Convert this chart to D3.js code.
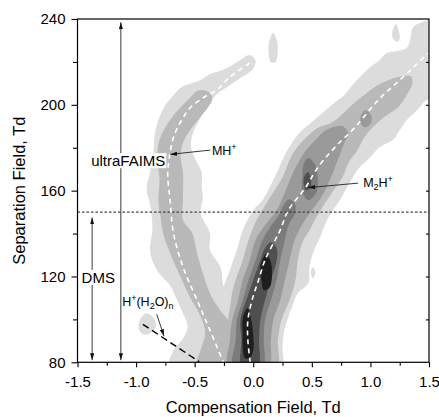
<!DOCTYPE html>
<html><head><meta charset="utf-8">
<script src="https://cdn.jsdelivr.net/npm/d3@7"></script>
<style>body{margin:0;background:#fff} svg{display:block} text{font-family:"Liberation Sans",Arial,sans-serif;fill:#000}</style>
</head><body><svg id="c" width="439" height="417"></svg>
<script>
// ---- axes ----
const xTicks = [-1.5,-1.0,-0.5,0.0,0.5,1.0,1.5];
const xTickLabels = ["-1.5","-1.0","-0.5","0.0","0.5","1.0","1.5"];
const xMinor = [-1.25,-0.75,-0.25,0.25,0.75,1.25];
const yTicks = [80,120,160,200,240];
const yTickLabels = ["80","120","160","200","240"];
const yMinor = [100,140,180,220];
const yRightTicks = [100,120,140,160,180,200,220];
const levelColors = ["#dcdcdc","#b9b9b9","#9a9a9a","#7b7b7b","#4f4f4f","#1e1e1e"];

// ---- contour regions, [CV (Td), SV (Td)] ----
const mhLevel1 = [[-0.03,223.2],[0.02,220.4],[-0.01,216.2],[-0.11,212.5],[-0.21,208.8],[-0.31,205.0],[-0.39,199.4],[-0.46,192.9],[-0.52,185.9],[-0.53,179.8],[-0.49,174.2],[-0.44,168.6],[-0.44,162.1],[-0.43,156.5],[-0.45,149.5],[-0.37,140.2],[-0.37,132.3],[-0.28,124.3],[-0.25,115.0],[-0.18,108.9],[-0.06,104.3],[-0.04,78],[-0.71,78],[-0.68,85.6],[-0.61,90.3],[-0.56,96.3],[-0.60,102.9],[-0.65,108.9],[-0.71,115.9],[-0.81,122.0],[-0.88,131.3],[-0.86,142.5],[-0.88,153.2],[-0.91,161.2],[-0.88,168.6],[-0.85,178.9],[-0.84,186.8],[-0.81,192.9],[-0.76,199.0],[-0.68,204.6],[-0.61,208.3],[-0.47,211.1],[-0.37,214.3],[-0.24,216.7],[-0.11,220.9]];
const waterBlob1 = [[-0.96,100.5],[-0.91,102.9],[-0.85,100.5],[-0.83,96.8],[-0.88,93.5],[-0.94,93.1],[-0.98,95.9]];
const topBlob1 = [[0.17,233.5],[0.20,230.2],[0.21,225.5],[0.19,219.9],[0.15,219.9],[0.13,225.5],[0.14,230.2]];
const cornerBlob1 = [[1.22,237.7],[1.24,234.9],[1.25,231.1],[1.23,229.3],[1.19,231.1],[1.19,234.9]];
const spotBlob1 = [[0.51,124.3],[0.53,122.0],[0.51,119.2],[0.49,122.0]];
const m2hLevel1 = [[-0.18,78],[-0.21,99.6],[-0.26,112.7],[-0.20,122.9],[-0.14,132.3],[-0.09,141.6],[0.00,150.9],[0.08,155.6],[0.14,161.6],[0.20,168.2],[0.26,175.6],[0.33,182.2],[0.40,187.3],[0.50,192.0],[0.59,196.2],[0.68,200.4],[0.77,204.1],[0.84,208.8],[0.91,212.9],[1.00,217.6],[1.08,220.9],[1.14,224.1],[1.23,225.1],[1.31,226.5],[1.34,230.7],[1.36,235.8],[1.42,238.1],[1.53,239.1],[1.53,202.2],[1.48,202.2],[1.40,197.6],[1.31,192.9],[1.25,188.2],[1.19,183.6],[1.08,180.3],[1.00,175.6],[0.91,171.0],[0.85,166.3],[0.80,161.6],[0.74,155.6],[0.68,150.9],[0.63,146.3],[0.57,138.3],[0.51,130.9],[0.48,124.3],[0.47,116.9],[0.38,112.2],[0.33,105.7],[0.29,99.6],[0.26,93.5],[0.25,87.0],[0.24,78]];
const mhLevel2 = [[-0.43,206.9],[-0.37,205.5],[-0.35,202.7],[-0.39,198.5],[-0.46,193.8],[-0.54,188.2],[-0.60,182.2],[-0.62,175.6],[-0.60,168.2],[-0.60,155.6],[-0.60,146.3],[-0.52,140.2],[-0.48,130.9],[-0.43,121.5],[-0.37,112.2],[-0.30,105.7],[-0.21,99.6],[-0.11,95.0],[-0.03,78],[-0.48,78],[-0.45,85.6],[-0.41,93.5],[-0.45,101.5],[-0.54,110.3],[-0.62,119.7],[-0.71,130.9],[-0.77,140.2],[-0.79,147.2],[-0.81,155.6],[-0.80,164.9],[-0.82,175.6],[-0.80,183.6],[-0.75,189.6],[-0.65,197.1],[-0.55,202.7],[-0.48,206.4]];
const m2hLevel2 = [[-0.20,78],[-0.19,108.9],[-0.15,118.3],[-0.09,127.6],[-0.04,137.0],[0.02,145.3],[0.13,155.6],[0.25,166.3],[0.33,176.6],[0.43,183.6],[0.55,189.2],[0.68,192.0],[0.78,196.6],[0.87,201.3],[0.98,206.0],[1.08,209.7],[1.23,212.9],[1.34,213.4],[1.36,210.6],[1.30,203.6],[1.23,198.5],[1.13,194.8],[1.04,190.6],[0.95,185.0],[0.89,178.9],[0.81,172.8],[0.77,167.2],[0.70,161.2],[0.63,155.6],[0.55,148.6],[0.48,141.6],[0.42,136.0],[0.38,127.6],[0.36,118.3],[0.31,108.9],[0.24,99.6],[0.21,90.3],[0.20,78]];
const m2hLevel3 = [[-0.21,78],[-0.20,90.3],[-0.18,99.6],[-0.13,108.9],[-0.09,118.3],[-0.03,127.6],[0.02,137.0],[0.10,143.9],[0.20,150.9],[0.26,157.9],[0.35,169.6],[0.44,178.0],[0.53,183.6],[0.61,187.8],[0.68,189.6],[0.76,190.1],[0.81,186.8],[0.77,181.2],[0.72,174.2],[0.66,165.8],[0.59,157.9],[0.50,150.9],[0.43,145.3],[0.36,137.9],[0.31,127.6],[0.27,118.3],[0.23,108.9],[0.17,99.6],[0.15,90.3],[0.13,78]];
const upperBlob3 = [[0.96,197.6],[1.01,194.8],[1.00,191.0],[0.95,189.6],[0.91,192.4],[0.93,196.2]];
const m2hLevel4 = [[-0.17,78],[-0.15,90.3],[-0.14,99.6],[-0.09,108.9],[-0.04,118.3],[0.02,127.6],[0.08,137.0],[0.15,143.5],[0.22,148.6],[0.27,154.2],[0.31,156.0],[0.36,153.2],[0.35,148.6],[0.30,143.9],[0.27,137.0],[0.23,127.6],[0.20,118.3],[0.15,108.9],[0.10,99.6],[0.09,90.3],[0.08,78]];
const dimerBlob4 = [[0.47,175.2],[0.53,171.9],[0.55,165.8],[0.54,159.3],[0.47,155.6],[0.42,159.3],[0.42,167.2],[0.43,172.4]];
const m2hLevel5 = [[-0.10,78],[-0.10,90.3],[-0.11,99.6],[-0.06,108.9],[0.00,118.3],[0.06,127.6],[0.10,133.2],[0.15,136.0],[0.20,133.2],[0.20,127.6],[0.15,118.3],[0.10,108.9],[0.06,99.6],[0.05,90.3],[0.04,78]];
const dimerBlob5 = [[0.47,168.6],[0.49,165.8],[0.49,161.6],[0.45,160.2],[0.43,163.5],[0.44,167.2]];
const coreUpper6 = [[0.11,130.4],[0.15,126.7],[0.16,120.6],[0.14,115.0],[0.09,113.6],[0.07,118.3],[0.06,124.8]];
const coreLower6 = [[-0.05,105.2],[-0.02,100.5],[0.00,92.6],[0.00,85.6],[-0.03,81.9],[-0.07,81.9],[-0.09,86.6],[-0.09,93.5],[-0.09,100.5]];

// ---- ridge (dispersion) curves ----
const mhRidge = [[-0.03,219.5],[-0.20,212.9],[-0.31,207],[-0.43,203.2],[-0.54,198.5],[-0.62,192],[-0.68,185],[-0.71,177.5],[-0.73,168],[-0.71,155.6],[-0.68,140],[-0.60,124.5],[-0.48,109],[-0.37,95],[-0.25,79.4]];
const m2hRidge = [[-0.026,80],[-0.046,90.3],[-0.046,99.6],[-0.01,109],[0.045,118.3],[0.10,127.6],[0.187,137],[0.23,141.6],[0.30,150.9],[0.443,161.2],[0.554,171],[0.699,180.3],[0.870,189.6],[1.066,202.2],[1.29,213.5],[1.49,224]];
const waterLine = [[-0.942,97.7],[-0.462,80.3]];

const regions = [
  [mhLevel1,0],[m2hLevel1,0],[waterBlob1,0],[topBlob1,0],[cornerBlob1,0],[spotBlob1,0],
  [mhLevel2,1],[m2hLevel2,1],
  [m2hLevel3,2],[upperBlob3,2],
  [m2hLevel4,3],[dimerBlob4,3],
  [m2hLevel5,4],[dimerBlob5,4],
  [coreUpper6,5],[coreLower6,5]
];

const svg = d3.select("#c");
const x = d3.scaleLinear().domain([-1.5,1.5]).range([77.5,429]);
const y = d3.scaleLinear().domain([80,240]).range([362.3,19]);
const defs = svg.append("defs");
defs.append("clipPath").attr("id","clip").append("rect")
  .attr("x",x(-1.5)).attr("y",y(240)).attr("width",x(1.5)-x(-1.5)).attr("height",y(80)-y(240));
defs.append("marker").attr("id","ah").attr("viewBox","0 0 10 6").attr("refX",10).attr("refY",3)
  .attr("markerWidth",7).attr("markerHeight",4.2).attr("markerUnits","userSpaceOnUse")
  .attr("orient","auto-start-reverse").attr("preserveAspectRatio","none")
  .append("path").attr("d","M0,0L10,3L0,6Z").attr("fill","#111");

const plot = svg.append("g").attr("clip-path","url(#clip)");
const area = d3.line().x(d=>x(d[0])).y(d=>y(d[1])).curve(d3.curveCatmullRomClosed.alpha(0.5));
regions.forEach(([pts,lev])=>{
  plot.append("path").attr("d",area(pts)).attr("fill",levelColors[lev]);
});
const open = d3.line().x(d=>x(d[0])).y(d=>y(d[1])).curve(d3.curveCatmullRom.alpha(0.5));
[mhRidge,m2hRidge].forEach(r=>{
  plot.append("path").attr("d",open(r)).attr("fill","none").attr("stroke","#fff")
    .attr("stroke-width",1.6).attr("stroke-dasharray","5,4");
});
plot.append("path").attr("d",d3.line().x(d=>x(d[0])).y(d=>y(d[1]))(waterLine))
  .attr("fill","none").attr("stroke","#000").attr("stroke-width",1.4).attr("stroke-dasharray","7,4");

// dotted boundary
plot.append("line").attr("x1",x(-1.5)).attr("x2",x(1.5)).attr("y1",y(150)).attr("y2",y(150))
  .attr("stroke","#444").attr("stroke-width",1.2).attr("stroke-dasharray","2.5,2");

// axes
function styleAxis(g){ g.select(".domain").remove(); g.selectAll("line").attr("stroke","#000").attr("stroke-width",1.1);
  g.selectAll("text").attr("font-size",15).attr("font-family","Liberation Sans, Arial, sans-serif").attr("fill","#000"); g.attr("font-size",null).attr("font-family",null);}
svg.append("g").attr("transform",`translate(${x(-1.5)},0)`)
  .call(d3.axisLeft(y).tickValues(yTicks).tickSize(6).tickPadding(6).tickFormat((d,i)=>yTickLabels[i])).call(styleAxis);
svg.append("g").attr("transform",`translate(${x(-1.5)},0)`)
  .call(d3.axisLeft(y).tickValues(yMinor).tickSize(4.5).tickFormat("")).call(styleAxis);
svg.append("g").attr("transform",`translate(0,${y(80)})`)
  .call(d3.axisBottom(x).tickValues(xTicks).tickSize(5).tickPadding(9).tickFormat((d,i)=>xTickLabels[i])).call(styleAxis);
svg.append("g").attr("transform",`translate(0,${y(80)})`)
  .call(d3.axisBottom(x).tickValues(xMinor).tickSize(3.5).tickFormat("")).call(styleAxis);
svg.append("g").attr("transform",`translate(${x(1.5)},0)`)
  .call(d3.axisLeft(y).tickValues(yRightTicks).tickSize(3).tickFormat("")).call(styleAxis);
svg.append("rect").attr("x",x(-1.5)).attr("y",y(240)).attr("width",x(1.5)-x(-1.5)).attr("height",y(80)-y(240))
  .attr("fill","none").attr("stroke","#000").attr("stroke-width",1.2);

// titles
svg.append("text").attr("x",(x(-1.5)+x(1.5))/2).attr("y",413).attr("text-anchor","middle")
  .attr("font-size",16.5).text("Compensation Field, Td");
svg.append("text").attr("transform",`translate(25,${(y(80)+y(240))/2}) rotate(-90)`).attr("text-anchor","middle")
  .attr("font-size",16.5).text("Separation Field, Td");

// range arrows
function arrow(x1,y1,x2,y2,both){
  const l = svg.append("line").attr("x1",x(x1)).attr("y1",y(y1)).attr("x2",x(x2)).attr("y2",y(y2))
    .attr("stroke","#222").attr("stroke-width",0.9).attr("marker-end","url(#ah)");
  if(both) l.attr("marker-start","url(#ah)");
}
arrow(-1.13,81,-1.13,238.5,true);
arrow(-1.375,81,-1.375,147.5,true);
function boxed(tx,ty,str){
  const t = svg.append("text").attr("x",x(tx)).attr("y",y(ty)).attr("text-anchor","middle").attr("font-size",15).text(str);
  const b = t.node().getBBox();
  svg.insert("rect",()=>t.node()).attr("x",b.x-1).attr("y",b.y+1).attr("width",b.width+2).attr("height",b.height-2).attr("fill","#fff");
}
boxed(-1.067,171.4,"ultraFAIMS");
boxed(-1.323,117.0,"DMS");

// ion labels
arrow(-0.368,178.9,-0.709,176.9,false);
arrow(0.895,163.5,0.468,161.4,false);
arrow(-0.824,102.4,-0.762,92.2,false);
function label(tx,ty,parts){
  const t = svg.append("text").attr("x",x(tx)).attr("y",y(ty)).attr("font-size",12.5);
  let shift = 0;
  parts.forEach(([s,kind])=>{
    const target = kind==="sup"?-5:kind==="sub"?3:0;
    const ts = t.append("tspan").attr("dy",target-shift).text(s);
    if(kind) ts.attr("font-size",9);
    shift = target;
  });
}
label(-0.353,176.6,[["MH",null],["+","sup"]]);
label(0.938,161.5,[["M",null],["2","sub"],["H",null],["+","sup"]]);
label(-1.119,106.1,[["H",null],["+","sup"],["(H",null],["2","sub"],["O)",null],["n","sub"]]);
</script></body></html>
